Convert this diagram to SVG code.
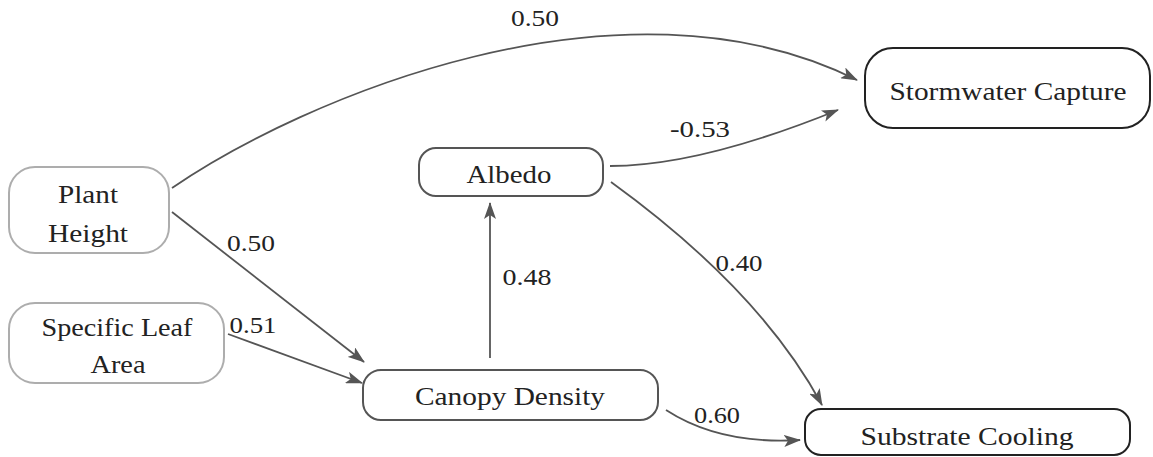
<svg xmlns="http://www.w3.org/2000/svg" width="1153" height="457" viewBox="0 0 1153 457">
<style>
.node rect{fill:#fff;stroke-width:2}
.light{stroke:#adadad}
.mid{stroke:#555}
.dark{stroke:#222}
text{font-family:'Liberation Serif','Times New Roman',Times,serif;font-size:25px;fill:#222;text-anchor:middle}
.lbl{font-size:24px}
.edge{fill:none;stroke:#555;stroke-width:1.8;marker-end:url(#arr)}
</style>
<defs>
<marker id="arr" markerWidth="18" markerHeight="12" refX="16" refY="6" orient="auto" markerUnits="userSpaceOnUse">
<path d="M0,0 L17,6 L0,12 L4,6 z" fill="#555"/>
</marker>
</defs>
<g id="connectors">
<path class="edge" d="M172,188 C300,100 620,-38 857,80"/>
<path class="edge" d="M610,166 Q700,166 838,110"/>
<path class="edge" d="M611,182 Q760,290 822,405"/>
<path class="edge" d="M172,212 L364,362"/>
<path class="edge" d="M228,334 L362,383"/>
<path class="edge" d="M490,358 L490,203"/>
<path class="edge" d="M666,410 Q720,445 800,440"/>
<text class="lbl" x="535" y="26" textLength="48" lengthAdjust="spacingAndGlyphs">0.50</text>
<text class="lbl" x="700" y="137" textLength="60" lengthAdjust="spacingAndGlyphs">-0.53</text>
<text class="lbl" x="739" y="271" textLength="47" lengthAdjust="spacingAndGlyphs">0.40</text>
<text class="lbl" x="251" y="251" textLength="48" lengthAdjust="spacingAndGlyphs">0.50</text>
<text class="lbl" x="253" y="333" textLength="47" lengthAdjust="spacingAndGlyphs">0.51</text>
<text class="lbl" x="527" y="285" textLength="49" lengthAdjust="spacingAndGlyphs">0.48</text>
<text class="lbl" x="717" y="423" textLength="46" lengthAdjust="spacingAndGlyphs">0.60</text>
</g>
<g id="plant-height" class="node">
<rect class="light" x="9" y="167" width="160" height="86" rx="26"/>
<text x="88" y="203" textLength="60" lengthAdjust="spacingAndGlyphs">Plant</text>
<text x="88" y="242" textLength="80" lengthAdjust="spacingAndGlyphs">Height</text>
</g>
<g id="specific-leaf-area" class="node">
<rect class="light" x="9" y="303" width="215" height="80" rx="26"/>
<text x="117" y="336" textLength="151" lengthAdjust="spacingAndGlyphs">Specific Leaf</text>
<text x="118" y="373" textLength="55" lengthAdjust="spacingAndGlyphs">Area</text>
</g>
<g id="albedo" class="node">
<rect class="mid" x="419" y="148" width="184" height="48" rx="17"/>
<text x="509" y="183" textLength="85" lengthAdjust="spacingAndGlyphs">Albedo</text>
</g>
<g id="canopy-density" class="node">
<rect class="mid" x="363" y="370" width="295" height="50" rx="18"/>
<text x="510" y="405" textLength="190" lengthAdjust="spacingAndGlyphs">Canopy Density</text>
</g>
<g id="stormwater-capture" class="node">
<rect class="dark" x="865" y="48" width="285" height="80" rx="28"/>
<text x="1008" y="100" textLength="237" lengthAdjust="spacingAndGlyphs">Stormwater Capture</text>
</g>
<g id="substrate-cooling" class="node">
<rect class="dark" x="805" y="409" width="325" height="46" rx="16"/>
<text x="967" y="445" textLength="213" lengthAdjust="spacingAndGlyphs">Substrate Cooling</text>
</g>
</svg>
